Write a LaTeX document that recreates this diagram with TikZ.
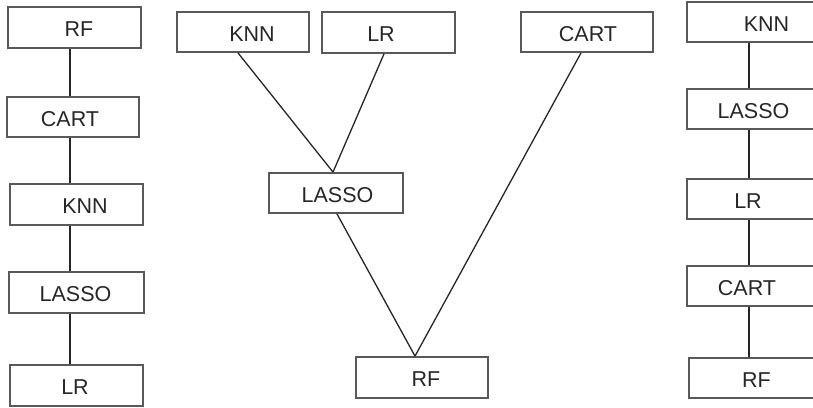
\documentclass[tikz,border=0pt]{standalone}
\usepackage{fontspec}
\setmainfont{Liberation Sans}
\begin{document}
\begin{tikzpicture}[x=1pt,y=-1pt,
  box/.style={draw=black!65, line width=1.8pt, minimum width=133pt, minimum height=41pt, inner sep=0pt},
  txt/.style={font=\fontsize{21.5}{24}\selectfont, text=black!85, yshift=-2pt},
  link/.style={draw=black!85, line width=1.3pt}]
\useasboundingbox (0,0) rectangle (813,407);
\clip (0,0) rectangle (813,407);
% left column
\node[box, label={[txt,xshift=4.5pt]center:RF}] (a1) at (74.5,27.5) {};
\node[box, minimum width=132pt, minimum height=40pt, label={[txt,xshift=-3pt]center:CART}] (a2) at (73,117) {};
\node[box, label={[txt,xshift=8.5pt]center:KNN}] (a3) at (76.5,204.5) {};
\node[box, minimum width=135pt, label={[txt,xshift=-1pt]center:LASSO}] (a4) at (76.5,292.5) {};
\node[box, label={[txt,xshift=-1.5pt]center:LR}] (a5) at (76.5,385.5) {};
\coordinate (ax) at (70,0);
\draw[link] (a1.south -| ax) -- (a2.north -| ax);
\draw[link] (a2.south -| ax) -- (a3.north -| ax);
\draw[link] (a3.south -| ax) -- (a4.north -| ax);
\draw[link] (a4.south -| ax) -- (a5.north -| ax);
% middle tree
\node[box, minimum width=132pt, minimum height=40pt, label={[txt,xshift=9pt]center:KNN}] (m1) at (243,32) {};
\node[box, minimum height=41pt, label={[txt,xshift=-7.5pt]center:LR}] (m2) at (388.5,32.5) {};
\node[box, minimum width=134pt, minimum height=40pt, label={[txt,xshift=1.5pt]center:LASSO}] (m3) at (336,193) {};
\node[box, minimum width=132pt, minimum height=40pt, label={[txt,xshift=1pt]center:CART}] (m4) at (587,32) {};
\node[box, minimum width=132pt, label={[txt,xshift=4pt]center:RF}] (m5) at (422,377.5) {};
\draw[link] ([xshift=-5pt]m1.south) -- ([xshift=-3pt]m3.north);
\draw[link] ([xshift=-4.5pt]m2.south) -- ([xshift=-3pt]m3.north);
\draw[link] ([xshift=1pt]m3.south) -- ([xshift=-7pt]m5.north);
\draw[link] ([xshift=-6pt]m4.south) -- ([xshift=-7pt]m5.north);
% right column
\node[box, minimum height=40pt, label={[txt,xshift=13pt]center:KNN}] (r1) at (753.5,22) {};
\node[box, minimum height=40pt, label={[txt,xshift=0pt]center:LASSO}] (r2) at (753.5,109) {};
\node[box, minimum height=40pt, label={[txt,xshift=-5.5pt]center:LR}] (r3) at (753.5,199) {};
\node[box, minimum height=40pt, label={[txt,xshift=-6.5pt]center:CART}] (r4) at (753.5,286) {};
\node[box, minimum height=40pt, label={[txt,xshift=1pt]center:RF}] (r5) at (755.5,378) {};
\coordinate (rx) at (749,0);
\draw[link] (r1.south -| rx) -- (r2.north -| rx);
\draw[link] (r2.south -| rx) -- (r3.north -| rx);
\draw[link] (r3.south -| rx) -- (r4.north -| rx);
\draw[link] (r4.south -| rx) -- (r5.north -| rx);
\end{tikzpicture}
\end{document}
